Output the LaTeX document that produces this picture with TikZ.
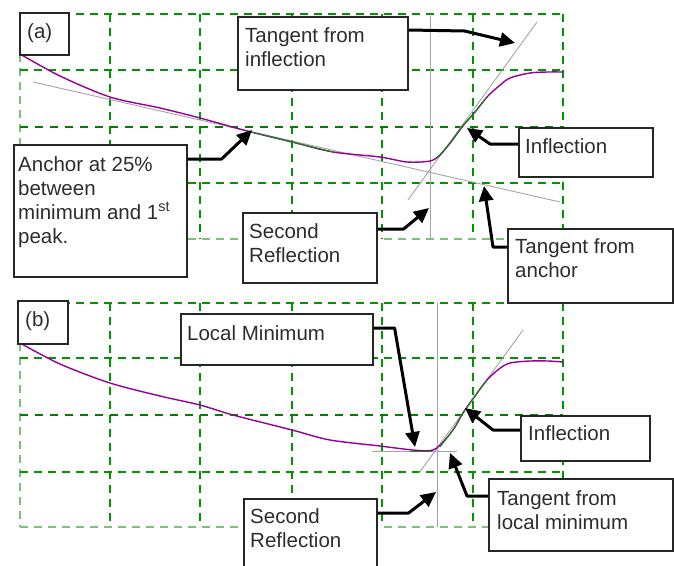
\documentclass[tikz,border=0pt]{standalone}
\usepackage{fontspec}
\setmainfont{Liberation Sans}
\usetikzlibrary{arrows.meta,calc}
\definecolor{gridg}{RGB}{0,150,0}
\definecolor{gridl}{RGB}{120,195,120}
\definecolor{curv}{RGB}{150,0,150}
\definecolor{tang}{RGB}{165,165,165}
\definecolor{txt}{RGB}{45,45,45}
\begin{document}
\begin{tikzpicture}[x=1pt,y=-1pt,
 gline/.style={gridg, line width=1.2pt, dash pattern=on 8pt off 6pt},
 glight/.style={gridl, line width=1.2pt, dash pattern=on 8pt off 6pt},
 gthick/.style={gridg!85!black, line width=2.8pt, dash pattern=on 8pt off 7pt},
 tline/.style={tang, line width=0.9pt},
 curve/.style={curv, line width=1.4pt},
 gcurve/.style={gridg, line width=0.9pt},
 box/.style={draw=black!85, line width=1.6pt, fill=white, anchor=north west, inner sep=0pt},
 lbl/.style={anchor=north west, inner sep=0pt, align=left, text=txt, font=\fontsize{20.5}{24}\selectfont},
 arr/.style={line width=3pt, -{Triangle[length=15pt,width=14pt]}, line join=round},
]
\clip (0,0) rectangle (674,565);
\fill[white] (0,0) rectangle (674,565);

% ---------- panel (a) grid ----------
\foreach \x in {110,200,292,382,473,563} \draw[gline] (\x,14) -- (\x,239);
\draw[glight] (20,54) -- (20,239);
\foreach \y in {14,70,183} \draw[gline] (20,\y) -- (563,\y);
\draw[gthick] (20,127) -- (563,127);
\draw[glight] (20,239) -- (563,239);

% ---------- panel (b) grid ----------
\foreach \x in {110,200,292,382,473,563} \draw[gline] (\x,303) -- (\x,527);
\draw[glight] (20,343) -- (20,527);
\foreach \y in {303,358,472} \draw[gline] (20,\y) -- (563,\y);
\draw[gthick] (20,415) -- (563,415);
\draw[glight] (20,527) -- (563,527);

% ---------- panel (a) tangents ----------
\draw[tline] (430,14) -- (430,239);
\draw[tline] (33,82) -- (560,202);
\draw[tline] (408,200) -- (537,22);

% ---------- panel (a) curve ----------
\draw[curve] plot[smooth, tension=0.5] coordinates {(20,54) (60,76) (110,97) (160,108) (200,118) (247,131) (292,142) (333,152) (380,157) (407,162) (430,161) (440,155) (451,142) (462,127) (475,112) (487,97) (499,86) (510,78) (530,73) (548,72) (563,72)};
\draw[gcurve] plot[smooth, tension=0.5] coordinates {(247,131) (292,142) (333,152)};
\draw[gcurve] plot[smooth, tension=0.5] coordinates {(437,158) (451,142) (462,127) (475,112) (487,97)};

% ---------- panel (b) tangents ----------
\draw[tline] (437,303) -- (437,527);
\draw[tline] (372,451) -- (457,451);
\draw[tline] (419,473) -- (523,330);

% ---------- panel (b) curve ----------
\draw[curve] plot[smooth, tension=0.5] coordinates {(20,343) (60,364) (110,383) (160,396) (200,405) (233,415) (292,430) (330,440) (380,446) (413,450) (433,450) (445,440) (455,427) (463,413) (475,396) (487,380) (499,369) (510,363) (530,361) (548,361) (563,362)};
\draw[gcurve] (410,451) -- (432,451);
\draw[gcurve] plot[smooth, tension=0.5] coordinates {(440,447) (455,427) (463,413) (475,396) (487,380)};

% ---------- arrow tips ----------
\coordinate (tAnchor) at (252,130);
\coordinate (tTinf) at (515,43);
\coordinate (tInfA) at (467,128);
\coordinate (tTanc) at (484,186);
\coordinate (tSecA) at (429,208);
\coordinate (tLmin) at (415,447);
\coordinate (tInfB) at (465,408);
\coordinate (tTlm) at (450,453);
\coordinate (tSecB) at (436,492);

% ---------- panel (a) boxes ----------
\node[box, minimum width=49pt, minimum height=42pt] (boxa) at (19,12) {};
\node[lbl] (la) at ($(boxa.north west)+(8,11)$) {(a)};

\node[box, minimum width=173pt, minimum height=132pt] (bAnchor) at (13,144) {};
\node[lbl] (lAnchor) at ($(bAnchor.north west)+(5,12)$) {Anchor at 25\%\\between\\minimum and 1\textsuperscript{st}\\peak.};

\node[box, minimum width=170pt, minimum height=73pt] (bTinf) at (237,16) {};
\node[lbl] (lTinf) at ($(bTinf.north west)+(8,11)$) {Tangent from\\inflection};

\node[box, minimum width=134pt, minimum height=49pt] (bInfA) at (518,127) {};
\node[lbl] (lInfA) at ($(bInfA.north west)+(7,11)$) {Inflection};

\node[box, minimum width=165pt, minimum height=74pt] (bTanc) at (507,228) {};
\node[lbl] (lTanc) at ($(bTanc.north west)+(8,10)$) {Tangent from\\anchor};

\node[box, minimum width=134pt, minimum height=70pt] (bSecA) at (242,212) {};
\node[lbl] (lSecA) at ($(bSecA.north west)+(7,11)$) {Second\\Reflection};

% ---------- panel (b) boxes ----------
\node[box, minimum width=50pt, minimum height=43pt] (boxb) at (17,300) {};
\node[lbl] (lb) at ($(boxb.north west)+(8,11)$) {(b)};

\node[box, minimum width=192pt, minimum height=51pt] (bLmin) at (180,313) {};
\node[lbl] (lLmin) at ($(bLmin.north west)+(7,12)$) {Local Minimum};

\node[box, minimum width=129pt, minimum height=45pt] (bInfB) at (520,415) {};
\node[lbl] (lInfB) at ($(bInfB.north west)+(8,10)$) {Inflection};

\node[box, minimum width=184pt, minimum height=72pt] (bTlm) at (488,478) {};
\node[lbl] (lTlm) at ($(bTlm.north west)+(9,12)$) {Tangent from\\local minimum};

\node[box, minimum width=133pt, minimum height=80pt] (bSecB) at (243,498) {};
\node[lbl] (lSecB) at ($(bSecB.north west)+(7,10)$) {Second\\Reflection};

% ---------- arrows ----------
\draw[arr] ($(bAnchor.north east)+(0,15)$) -- ++(34,0) -- (tAnchor);
\draw[arr] ($(bTinf.north east)+(0,14)$) -- ++(56,1) -- (tTinf);
\draw[arr] ($(bInfA.north west)+(0,17)$) -- ++(-28,0) -- (tInfA);
\draw[arr] ($(bTanc.north west)+(0,19)$) -- ++(-14,0) -- (tTanc);
\draw[arr] ($(bSecA.north east)+(0,17)$) -- ++(26,0) -- (tSecA);
\draw[arr] ($(bLmin.north east)+(0,15)$) -- ++(21,0) -- (tLmin);
\draw[arr] ($(bInfB.north west)+(0,15)$) -- ++(-27,0) -- (tInfB);
\draw[arr] ($(bTlm.north west)+(0,18)$) -- ++(-21,0) -- (tTlm);
\draw[arr] ($(bSecB.north east)+(0,15)$) -- ++(31,0) -- (tSecB);
\end{tikzpicture}
\end{document}
